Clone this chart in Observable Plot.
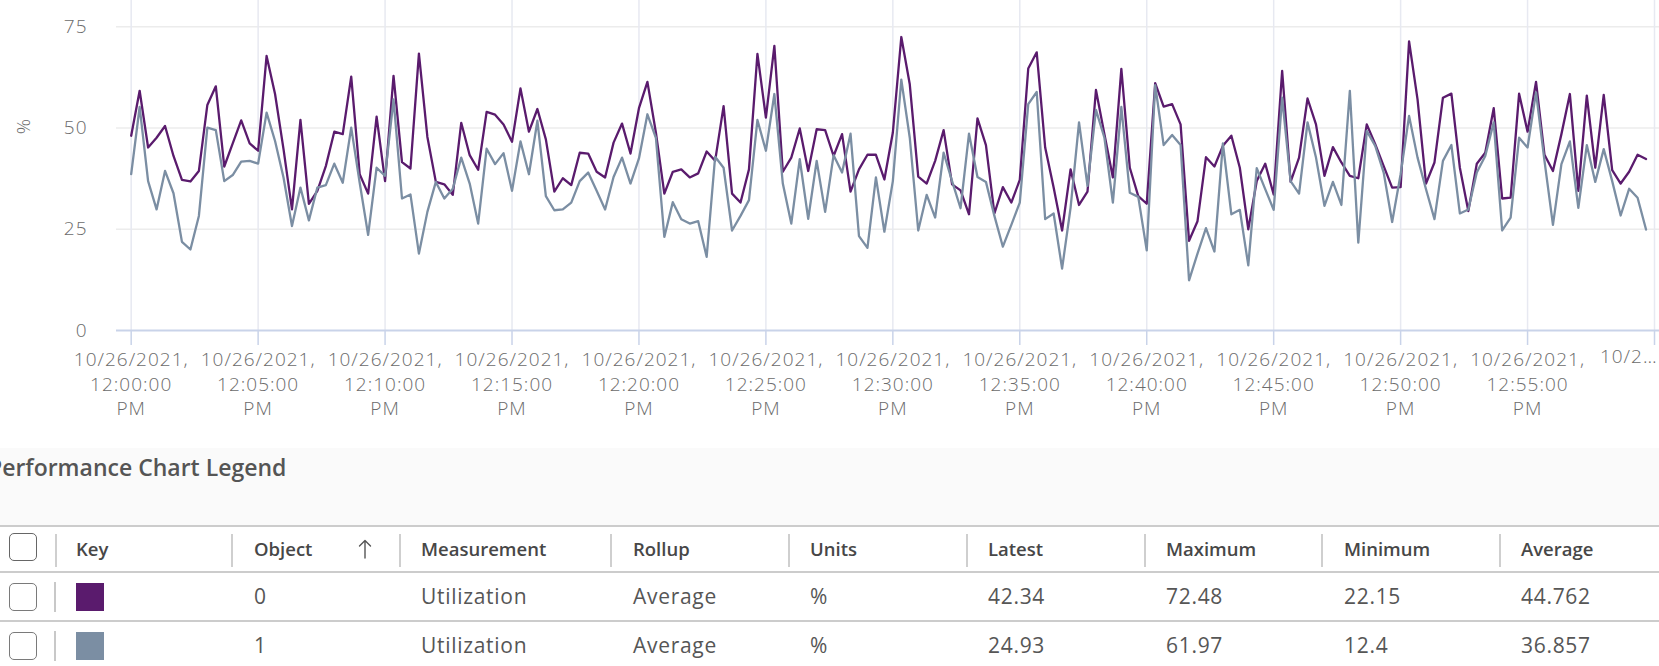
<!DOCTYPE html>
<html>
<head>
<meta charset="utf-8">
<script src="https://cdn.jsdelivr.net/npm/d3@7"></script>
<script src="https://cdn.jsdelivr.net/npm/@observablehq/plot@0.6"></script>
<style>
  html, body { margin: 0; padding: 0; background: #fff; width: 1659px; height: 666px; overflow: hidden; }
  #wrap { position: relative; width: 1659px; height: 666px; font-family: "Open Sans", sans-serif; overflow: hidden; }
  #chart { position: absolute; left: 0; top: 0; }
  .band { position: absolute; left: 0; top: 448px; width: 1659px; height: 78px; background: #fafafa; }
  .title { position: absolute; left: -12px; top: 452px; font-size: 23px; font-weight: 600; color: #555555; line-height: 31px; white-space: nowrap; }
  .hline { position: absolute; left: 0; width: 1659px; height: 1.5px; background: #cccccc; }
  .cell { position: absolute; white-space: nowrap; transform: translateY(-50%); line-height: 1; }
  .hdr { font-size: 18.5px; font-weight: 600; color: #474747; }
  .dat { font-size: 21px; color: #565656; letter-spacing: 0.7px; }
  .vsep { position: absolute; width: 1.5px; background: #cfcfcf; }
  .cb { position: absolute; left: 9px; width: 28px; height: 28px; box-sizing: border-box; border: 1.3px solid #7a7a7a; border-radius: 5px; background: #fff; }
  .sw { position: absolute; left: 76px; width: 28px; height: 28px; }
  .sort { position: absolute; left: 358px; top: 539px; }
</style>
</head>
<body>
<div id="wrap">
  <div id="chart"></div>
  <div class="band"></div>
  <div class="title">Performance Chart Legend</div>
  <div id="table"></div>
  <svg class="sort" width="14" height="20" viewBox="0 0 14 20">
    <path d="M7 1.5 V19 M1.5 7 L7 1.5 L12.5 7" fill="none" stroke="#555" stroke-width="1.4" stroke-linejoin="round" stroke-linecap="round"/>
  </svg>
</div>
<script>
// Sampling: one value every 20 seconds starting at 12:00:00 PM
const startTime = Date.UTC(2021, 9, 26, 12, 0, 0);
const sampleSeconds = 20;

// Object 0 utilization (%)
const util0 = [
  48.1, 59.2, 45.2, 47.6, 50.5, 43.1, 37.2, 36.8, 39.4, 55.7,
  60.3, 40.5, 46.2, 51.9, 46.2, 44.4, 67.8, 58.4, 44.8, 29.9,
  52.0, 31.3, 34.5, 40.6, 49.1, 48.5, 62.7, 38.6, 33.8, 52.8,
  36.9, 62.9, 41.6, 40.0, 68.4, 47.8, 36.7, 36.1, 33.5, 51.3,
  43.3, 39.7, 54.0, 53.3, 50.9, 46.6, 59.8, 49.1, 54.7, 47.2,
  34.3, 37.6, 35.9, 43.9, 43.7, 39.2, 37.8, 46.4, 51.1, 43.7,
  54.9, 61.4, 48.9, 33.8, 39.2, 39.8, 37.8, 38.8, 44.2, 41.9,
  55.4, 33.8, 31.6, 39.8, 68.3, 52.6, 70.3, 39.2, 42.7, 49.9,
  39.4, 49.7, 49.5, 43.1, 48.5, 34.3, 39.8, 43.4, 43.4, 37.3,
  48.9, 72.48, 60.8, 38.0, 36.3, 41.9, 49.5, 36.1, 34.6, 28.7,
  52.4, 45.8, 28.9, 35.4, 31.6, 37.2, 64.7, 68.7, 45.2, 35.3,
  24.7, 39.8, 31.0, 34.3, 59.4, 48.5, 37.8, 64.6, 40.2, 33.2,
  31.3, 61.1, 55.3, 55.9, 50.9, 22.15, 27.0, 42.8, 40.5, 45.6,
  48.1, 40.2, 25.0, 36.9, 41.2, 33.6, 64.1, 36.7, 42.7, 57.3,
  50.9, 38.2, 45.3, 41.5, 38.2, 37.6, 50.9, 46.0, 40.6, 35.3,
  35.4, 71.4, 57.1, 36.3, 41.5, 57.5, 58.5, 40.2, 29.5, 41.2,
  43.9, 54.9, 32.6, 32.8, 58.5, 49.1, 61.4, 43.4, 39.4, 48.5,
  58.4, 34.5, 58.0, 40.2, 58.2, 39.6, 36.3, 39.2, 43.4, 42.34
];

// Object 1 utilization (%)
const util1 = [
  38.6, 55.2, 36.9, 29.9, 39.4, 33.9, 21.9, 20.0, 28.3, 50.1,
  49.5, 36.9, 38.4, 41.7, 41.9, 41.2, 53.8, 46.8, 37.8, 25.8,
  35.3, 27.2, 35.3, 35.9, 41.2, 36.5, 50.1, 36.5, 23.6, 40.2,
  38.2, 57.1, 32.6, 33.6, 19.0, 29.3, 36.7, 32.6, 35.0, 42.7,
  36.3, 26.4, 44.9, 41.1, 43.8, 34.5, 46.7, 38.6, 51.8, 33.2,
  29.7, 29.9, 31.6, 36.9, 39.0, 34.5, 29.9, 37.9, 42.7, 36.3,
  42.5, 53.4, 47.6, 23.1, 31.7, 27.5, 26.4, 27.0, 18.2, 42.9,
  40.2, 24.7, 28.3, 32.2, 52.0, 44.4, 58.4, 36.3, 26.4, 42.3,
  27.6, 41.9, 29.3, 43.3, 39.0, 48.6, 23.3, 20.4, 37.8, 24.4,
  36.9, 61.97, 47.6, 24.7, 33.5, 27.9, 43.9, 36.9, 30.2, 48.6,
  37.9, 36.7, 28.3, 20.7, 26.1, 31.6, 55.9, 58.9, 27.5, 28.9,
  15.3, 30.3, 51.4, 35.7, 54.5, 47.6, 31.6, 55.2, 34.0, 33.0,
  19.8, 60.6, 45.8, 48.3, 45.8, 12.4, 19.0, 25.3, 19.5, 46.2,
  28.7, 29.8, 16.1, 40.1, 34.9, 29.8, 57.5, 36.9, 33.8, 51.4,
  42.7, 30.8, 36.7, 31.0, 59.2, 21.7, 49.3, 45.6, 39.0, 26.8,
  38.6, 53.0, 42.7, 34.9, 27.5, 41.9, 45.8, 28.9, 29.9, 39.0,
  43.1, 51.4, 24.7, 27.9, 47.6, 45.2, 58.8, 41.9, 26.1, 41.1,
  46.7, 30.3, 45.8, 36.7, 44.8, 36.9, 28.4, 35.0, 32.8, 24.93
];

const seriesNames = ["0", "1"];
const seriesColors = ["#5a1b6d", "#7b8ea3"];

const yTicks = [0, 25, 50, 75];

// Five-minute tick labels; the last one is cut off at the chart edge
const tickLabels = [
  "10/26/2021,\n12:00:00\nPM", "10/26/2021,\n12:05:00\nPM", "10/26/2021,\n12:10:00\nPM",
  "10/26/2021,\n12:15:00\nPM", "10/26/2021,\n12:20:00\nPM", "10/26/2021,\n12:25:00\nPM",
  "10/26/2021,\n12:30:00\nPM", "10/26/2021,\n12:35:00\nPM", "10/26/2021,\n12:40:00\nPM",
  "10/26/2021,\n12:45:00\nPM", "10/26/2021,\n12:50:00\nPM", "10/26/2021,\n12:55:00\nPM",
  "10/2\u2026"
];

// Legend table columns
const legendObjects = ["0", "1"];
const legendMeasurement = ["Utilization", "Utilization"];
const legendRollup = ["Average", "Average"];
const legendUnits = ["%", "%"];
const legendLatest = ["42.34", "24.93"];
const legendMaximum = ["72.48", "61.97"];
const legendMinimum = ["22.15", "12.4"];
const legendAverage = ["44.762", "36.857"];

const rows = [];
[util0, util1].forEach((vals, s) => {
  vals.forEach((v, i) => rows.push({
    series: seriesNames[s],
    time: new Date(startTime + i * sampleSeconds * 1000),
    value: v
  }));
});

const tickTimes = tickLabels.map((_, k) => new Date(startTime + k * 5 * 60000));
const lastTick = tickTimes.length - 1;
const xDomain = [new Date(startTime - 34700), new Date(startTime + 3600000 + 11800)];
const labelColor = "#6b6b6b";

const chart = Plot.plot({
  width: 1659,
  height: 420,
  marginLeft: 116,
  marginRight: 0,
  marginTop: 0,
  marginBottom: 90,
  style: { fontFamily: '"Open Sans", sans-serif', fontSize: "19px", fontWeight: 300, background: "transparent", letterSpacing: "1px", overflow: "visible" },
  x: { type: "utc", domain: xDomain, axis: null },
  y: { domain: [0, 81.5], axis: null },
  color: { domain: seriesNames, range: seriesColors },
  marks: [
    Plot.ruleY(yTicks.filter(d => d > 0), { stroke: "#ececec", strokeWidth: 1.5 }),
    Plot.ruleX(tickTimes, { stroke: "#e7e9f1", strokeWidth: 1.5 }),
    Plot.ruleX(tickTimes, { stroke: "#c9d3e9", strokeWidth: 1.5, insetTop: 330, insetBottom: -15 }),
    Plot.ruleY([0], { stroke: "#c9d3e9", strokeWidth: 2 }),
    Plot.lineY(rows, { x: "time", y: "value", z: "series", stroke: "series", strokeWidth: 2.3, strokeLinejoin: "round" }),
    Plot.text(tickTimes.slice(0, lastTick), {
      x: d => d, text: (d, i) => tickLabels[i],
      frameAnchor: "bottom", lineAnchor: "top", dy: 18.5, lineHeight: 1.29, fill: labelColor
    }),
    Plot.text([tickTimes[lastTick]], {
      x: d => d, text: () => tickLabels[lastTick],
      frameAnchor: "bottom", lineAnchor: "top", textAnchor: "end", dx: 3, dy: 18.5, fill: labelColor
    }),
    Plot.text(yTicks, { y: d => d, text: d => String(d), frameAnchor: "left", textAnchor: "end", dx: -29, fill: labelColor }),
    Plot.text(["%"], { y: () => 50, text: d => d, frameAnchor: "left", textAnchor: "middle", dx: -93, dy: -2, rotate: -90, fill: labelColor })
  ]
});
document.getElementById("chart").appendChild(chart);

// Legend table
const table = document.getElementById("table");
function add(cls, style, text) {
  const el = document.createElement("div");
  el.className = cls;
  Object.assign(el.style, style);
  if (text != null) el.textContent = text;
  table.appendChild(el);
  return el;
}
const lineTops = [525, 571, 620];
lineTops.forEach(t => add("hline", { top: t + "px" }));

const headers = [
  { label: "Key", x: 76 }, { label: "Object", x: 254 }, { label: "Measurement", x: 421 },
  { label: "Rollup", x: 633 }, { label: "Units", x: 810 }, { label: "Latest", x: 988 },
  { label: "Maximum", x: 1166 }, { label: "Minimum", x: 1344 }, { label: "Average", x: 1521 }
];
const sepX = [55, 231, 399, 610, 788, 966, 1144, 1321, 1499];
sepX.forEach(x => add("vsep", { left: x + "px", top: "534px", height: "33px" }));
headers.forEach(h => add("cell hdr", { left: h.x + "px", top: "549px" }, h.label));
add("cb", { top: "533px", borderColor: "#666666" });

const rowCenters = [597, 646];
const columns = [legendObjects, legendMeasurement, legendRollup, legendUnits, legendLatest, legendMaximum, legendMinimum, legendAverage];
rowCenters.forEach((cy, r) => {
  add("cb", { top: (cy - 14) + "px" });
  add("vsep", { left: "54px", top: (cy - 15) + "px", height: "30px", width: "2px", background: "#c8c8c8" });
  add("sw", { top: (cy - 14) + "px", background: seriesColors[r] });
  columns.forEach((col, c) => add("cell dat", { left: headers[c + 1].x + "px", top: (cy - 1) + "px" }, col[r]));
});
</script>
</body>
</html>
